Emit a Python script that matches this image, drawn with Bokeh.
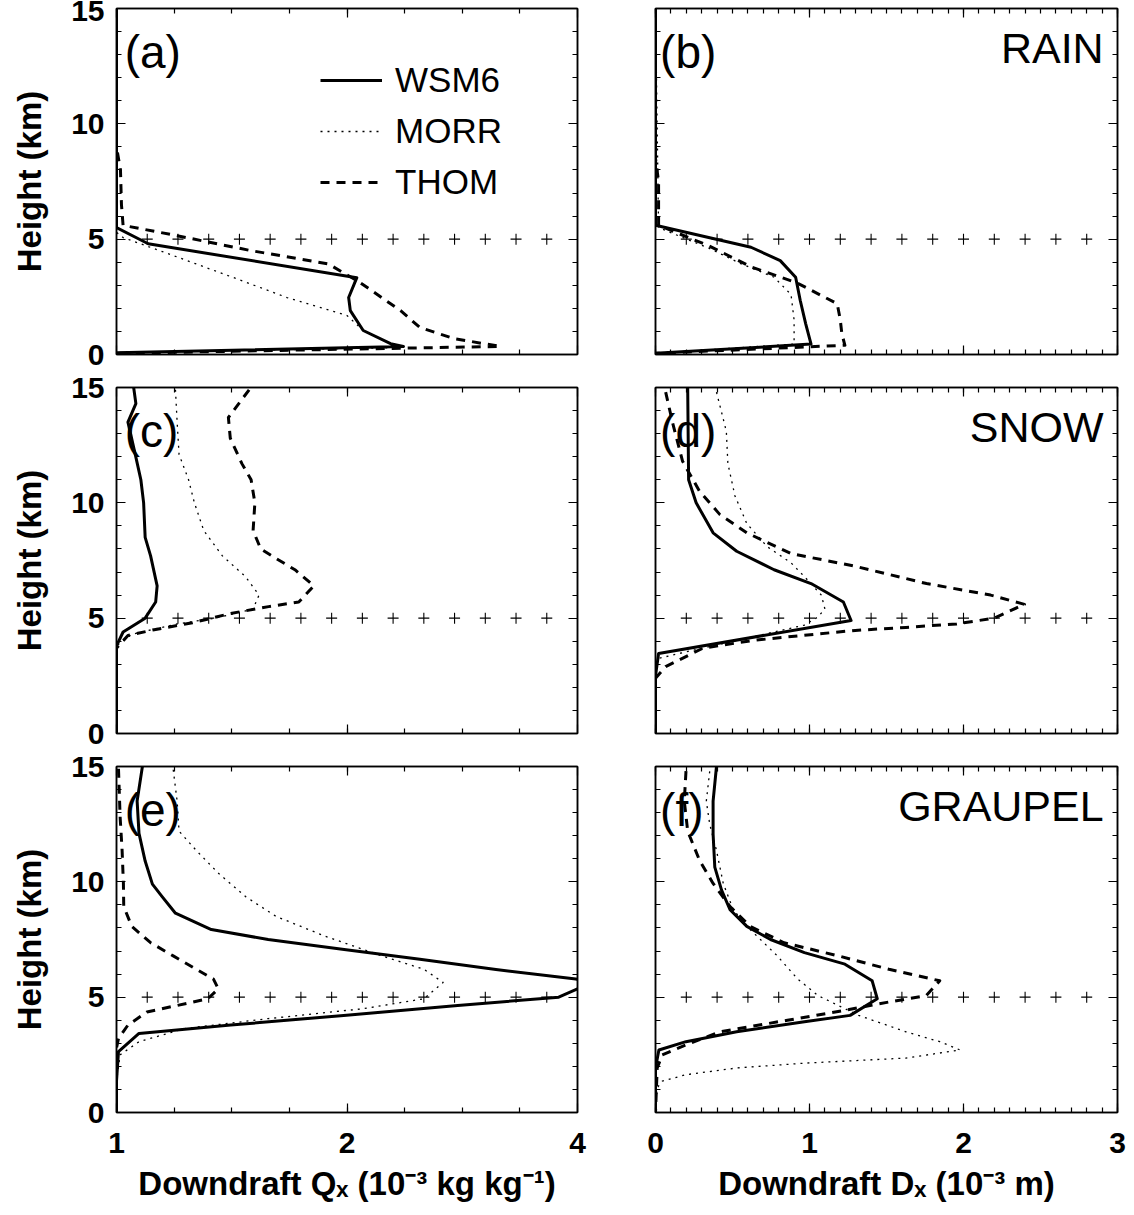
from bokeh.plotting import figure
from bokeh.layouts import gridplot
from bokeh.models import (Range1d, FixedTicker, LinearAxis, LogAxis, Label, Legend,
                          LegendItem, PrintfTickFormatter)
from bokeh.embed import file_html
from bokeh.resources import INLINE

# ---------------------------------------------------------------------------
# Downdraft profiles (height in km) for three microphysics schemes
# Left column: mixing ratio Qx (10^-3 kg/kg, log axis), right: diameter Dx (10^-3 m)
# ---------------------------------------------------------------------------
SCHEMES = ["WSM6", "MORR", "THOM"]

# RAIN, mixing ratio
rain_q_wsm6_h = [15.0, 5.5, 4.8, 3.33, 2.47, 1.9, 1.04, 0.47, 0.35, 0.08]
rain_q_wsm6 = [1.0, 1.0, 1.10, 2.06, 2.01, 2.02, 2.1, 2.28, 2.37, 1.0]
rain_q_morr_h = [15.0, 5.3, 5.07, 4.38, 3.34, 2.47, 1.69, 1.04, 0.47, 0.3, 0.08]
rain_q_morr = [1.0, 1.0, 1.02, 1.166, 1.42, 1.67, 2.0, 2.1, 2.28, 2.35, 1.0]
rain_q_thom_h = [15.0, 9.0, 8.0, 6.5, 5.6, 5.15, 4.5, 3.93, 3.12, 1.9, 1.17, 0.69, 0.35, 0.05]
rain_q_thom = [1.0, 1.0, 1.012, 1.015, 1.02, 1.20, 1.50, 1.89, 2.08, 2.35, 2.49, 2.76, 3.17, 1.0]

# RAIN, diameter
rain_d_wsm6_h = [15.0, 5.6, 4.65, 4.07, 3.35, 2.34, 1.34, 0.45, 0.05]
rain_d_wsm6 = [0.0, 0.0, 0.62, 0.81, 0.91, 0.94, 0.975, 1.01, 0.0]
rain_d_morr_h = [15.0, 5.5, 4.6, 3.95, 3.35, 2.6, 1.5, 0.45, 0.05]
rain_d_morr = [0.0, 0.02, 0.35, 0.55, 0.77, 0.88, 0.9, 0.9, 0.0]
rain_d_thom_h = [15.0, 8.5, 7.5, 5.6, 4.7, 3.8, 3.1, 2.2, 1.5, 0.9, 0.4, 0.05]
rain_d_thom = [0.0, 0.0, 0.02, 0.02, 0.35, 0.62, 0.92, 1.18, 1.2, 1.21, 1.23, 0.0]

# SNOW, mixing ratio
snow_q_wsm6_h = [15.0, 14.3, 13.5, 12.1, 11.0, 10.0, 8.5, 7.7, 6.4, 5.7, 5.0, 4.4, 3.8, 0.0]
snow_q_wsm6 = [1.053, 1.06, 1.035, 1.058, 1.076, 1.085, 1.09, 1.108, 1.13, 1.125, 1.09, 1.02,
               1.0, 1.0]
snow_q_morr_h = [14.9, 13.5, 12.1, 11.0, 10.0, 8.8, 7.7, 6.8, 6.0, 5.4, 5.0, 4.75, 4.3, 3.8, 0.0]
snow_q_morr = [1.194, 1.2, 1.207, 1.242, 1.264, 1.30, 1.375, 1.474, 1.535, 1.508, 1.346, 1.2,
               1.047, 1.0, 1.0]
snow_q_thom_h = [14.9, 13.7, 12.8, 11.7, 11.0, 10.0, 8.8, 8.0, 7.7, 7.1, 6.4, 5.7, 5.5, 5.2,
                 4.8, 4.5, 4.25, 3.7, 0.0]
snow_q_thom = [1.49, 1.40, 1.408, 1.458, 1.499, 1.516, 1.508, 1.543, 1.595, 1.71, 1.81, 1.73,
               1.58, 1.408, 1.257, 1.12, 1.035, 1.0, 1.0]

# SNOW, diameter
snow_d_wsm6_h = [15.0, 11.0, 10.0, 8.7, 7.9, 7.1, 6.5, 5.7, 4.9, 3.47, 2.5, 0.0]
snow_d_wsm6 = [0.209, 0.215, 0.264, 0.374, 0.527, 0.77, 1.01, 1.22, 1.27, 0.02, 0.0, 0.0]
snow_d_morr_h = [14.8, 13.1, 11.7, 10.3, 9.1, 8.1, 7.4, 6.8, 6.0, 5.4, 5.05, 4.7, 4.1, 3.54,
                 3.26, 2.8, 0.0]
snow_d_morr = [0.396, 0.46, 0.47, 0.516, 0.593, 0.725, 0.88, 0.967, 1.077, 1.1, 1.055, 0.967,
               0.571, 0.198, 0.022, 0.0, 0.0]
snow_d_thom_h = [14.8, 13.5, 11.8, 10.5, 9.5, 8.7, 7.8, 7.25, 6.5, 6.0, 5.6, 5.0, 4.75, 4.6,
                 4.47, 4.26, 4.04, 3.7, 2.9, 2.4, 0.0]
snow_d_thom = [0.066, 0.11, 0.176, 0.286, 0.417, 0.593, 0.88, 1.297, 1.76, 2.176, 2.396, 2.198,
               1.956, 1.626, 1.297, 0.967, 0.637, 0.308, 0.066, 0.0, 0.0]

# GRAUPEL, mixing ratio
graupel_q_wsm6_h = [15.0, 13.5, 12.1, 10.9, 9.9, 9.36, 8.64, 7.93, 7.5, 7.07, 6.64, 6.2, 5.79,
                    5.57, 5.36, 5.0, 4.64, 4.21, 3.79, 3.43, 2.64, 1.36, 0.0]
graupel_q_wsm6 = [1.081, 1.064, 1.07, 1.09, 1.114, 1.147, 1.194, 1.33, 1.578, 1.983, 2.49, 3.13,
                  3.98, 4.25, 4.0, 3.78, 2.79, 1.98, 1.41, 1.07, 1.006, 1.0, 1.0]
graupel_q_morr_h = [14.86, 13.5, 12.2, 11.36, 10.36, 9.36, 8.5, 7.64, 6.79, 6.21, 5.64, 4.93,
                    4.5, 4.07, 3.64, 3.07, 2.5, 1.36, 0.0]
graupel_q_morr = [1.186, 1.2, 1.207, 1.271, 1.36, 1.474, 1.616, 1.874, 2.22, 2.52, 2.67, 2.52,
                  2.10, 1.578, 1.228, 1.07, 1.011, 1.0, 1.0]
graupel_q_thom_h = [14.9, 12.8, 11.36, 9.93, 8.93, 8.07, 7.36, 6.79, 6.21, 5.79, 5.36, 4.93,
                    4.64, 4.36, 3.79, 3.21, 2.8, 0.0]
graupel_q_thom = [1.006, 1.011, 1.017, 1.021, 1.022, 1.047, 1.108, 1.186, 1.271, 1.338, 1.358,
                  1.316, 1.2, 1.096, 1.035, 1.006, 1.0, 1.0]

# GRAUPEL, diameter
graupel_d_wsm6_h = [15.0, 13.5, 12.07, 10.64, 9.64, 8.79, 8.07, 7.5, 6.93, 6.43, 5.71, 4.93,
                    4.21, 3.93, 3.5, 3.07, 2.71, 1.93, 0.0]
graupel_d_wsm6 = [0.396, 0.374, 0.374, 0.385, 0.429, 0.484, 0.593, 0.747, 0.967, 1.23, 1.407,
                  1.44, 1.264, 0.967, 0.527, 0.198, 0.022, 0.0, 0.0]
graupel_d_morr_h = [14.79, 13.5, 12.5, 11.36, 9.93, 8.79, 7.93, 6.79, 5.79, 5.07, 4.21, 3.5,
                    3.07, 2.71, 2.36, 2.14, 1.93, 1.64, 1.36, 1.07, 0.0]
graupel_d_morr = [0.352, 0.33, 0.352, 0.396, 0.44, 0.505, 0.615, 0.791, 0.923, 1.055, 1.319,
                  1.626, 1.846, 1.978, 1.626, 0.967, 0.527, 0.198, 0.044, 0.011, 0.0]
graupel_d_thom_h = [14.8, 13.5, 12.2, 10.93, 9.93, 8.93, 8.07, 7.36, 6.79, 6.21, 5.71, 5.07,
                    4.79, 4.43, 4.0, 3.5, 2.93, 2.5, 1.93, 0.0]
graupel_d_thom = [0.198, 0.187, 0.209, 0.286, 0.374, 0.484, 0.615, 0.835, 1.187, 1.516, 1.846,
                  1.758, 1.516, 1.23, 0.857, 0.418, 0.198, 0.044, 0.011, 0.0]

# Axis settings
Q_RANGE = (1.0, 4.0)
D_RANGE = (0.0, 3.0)
H_RANGE = (0.0, 15.0)
Q_TICKS = [1, 2, 4]
D_TICKS = [0, 1, 2, 3]
H_TICKS = [0, 5, 10, 15]
REF_HEIGHT = 5.0        # height of the row of "+" reference marks
N_REF = 15              # the reference marks divide the x range into this many parts

Q_LABEL = "Downdraft Q\u2093 (10\u207b\u00b3 kg kg\u207b\u00b9)"
D_LABEL = "Downdraft D\u2093 (10\u207b\u00b3 m)"

STYLE = {
    "WSM6": dict(line_width=3.0, line_dash="solid"),
    "MORR": dict(line_width=1.3, line_dash="2 5"),
    "THOM": dict(line_width=3.0, line_dash="9 7"),
}

TICK_FONT = "Liberation Sans"
TEXT_FONT = "Liberation Sans"


def style_axis(ax, ticker, formatter=None, show_labels=False):
    ax.ticker = ticker
    if formatter is not None:
        ax.formatter = formatter
    ax.axis_line_color = "black"
    ax.axis_line_width = 1.5
    ax.major_tick_line_color = "black"
    ax.minor_tick_line_color = "black"
    ax.major_tick_line_width = 1.2
    ax.minor_tick_line_width = 1.2
    ax.major_tick_in = 9
    ax.major_tick_out = 0
    ax.minor_tick_in = 5
    ax.minor_tick_out = 0
    if show_labels:
        ax.major_label_text_font = TICK_FONT
        ax.major_label_text_font_size = "30px"
        ax.major_label_text_font_style = "bold"
        ax.major_label_text_color = "black"
    else:
        ax.major_label_text_font_size = "0px"


def make_panel(row, col, curves, tag, species=None, legend=False):
    left = col == 0
    last_row = row == 2
    kw = dict(
        frame_width=461 if left else 462, frame_height=346,
        y_range=Range1d(*H_RANGE),
        output_backend="svg", toolbar_location=None,
        min_border_left=116 if left else 39,
        min_border_right=39 if left else 17,
        min_border_top=8 if row == 0 else 17,
        min_border_bottom=100 if last_row else 16,
        background_fill_color="white", border_fill_color="white",
    )
    if left:
        p = figure(x_axis_type="log", x_range=Range1d(*Q_RANGE), **kw)
        minor = [2 ** (k / 4) for k in range(1, 8)]
        xticker = FixedTicker(ticks=Q_TICKS, minor_ticks=minor)
        top_axis = LogAxis()
    else:
        p = figure(x_range=Range1d(*D_RANGE), **kw)
        xticker = FixedTicker(ticks=D_TICKS, minor_ticks=[i / 10 for i in range(31)])
        top_axis = LinearAxis()
    yticker = FixedTicker(ticks=H_TICKS, minor_ticks=list(range(16)))

    p.xgrid.visible = False
    p.ygrid.visible = False
    p.outline_line_color = "black"
    p.outline_line_width = 1.5

    style_axis(p.xaxis[0], xticker, PrintfTickFormatter(format="%d"), show_labels=last_row)
    style_axis(p.yaxis[0], yticker, PrintfTickFormatter(format="%d"), show_labels=left)
    p.xaxis[0].major_label_standoff = 20
    p.yaxis[0].major_label_standoff = 12
    if last_row:
        p.xaxis[0].axis_label = Q_LABEL if left else D_LABEL
        p.xaxis[0].axis_label_text_font = TEXT_FONT
        p.xaxis[0].axis_label_text_font_size = "33px"
        p.xaxis[0].axis_label_text_font_style = "bold"
        p.xaxis[0].axis_label_text_color = "black"
        p.xaxis[0].axis_label_standoff = 9
    if left:
        p.yaxis[0].axis_label = "Height (km)"
        p.yaxis[0].axis_label_text_font = TEXT_FONT
        p.yaxis[0].axis_label_text_font_size = "33px"
        p.yaxis[0].axis_label_text_font_style = "bold"
        p.yaxis[0].axis_label_text_color = "black"
        p.yaxis[0].axis_label_standoff = 20

    style_axis(top_axis, xticker)
    p.add_layout(top_axis, "above")
    right_axis = LinearAxis()
    style_axis(right_axis, yticker)
    p.add_layout(right_axis, "right")

    # reference marks at 5 km, evenly spaced across the axis
    lo, hi = (Q_RANGE if left else D_RANGE)
    if left:
        ref_x = [lo * (hi / lo) ** (k / N_REF) for k in range(1, N_REF)]
    else:
        ref_x = [lo + (hi - lo) * k / N_REF for k in range(1, N_REF)]
    p.scatter(x=ref_x, y=[REF_HEIGHT] * len(ref_x), marker="cross", size=11,
              line_color="black", line_width=1.1)

    renderers = {}
    for name in SCHEMES:
        xs, hs = curves[name]
        renderers[name] = p.line(x=xs, y=hs, line_color="black", line_join="round",
                                 **STYLE[name])

    p.add_layout(Label(x=1.025 if left else 0.03, y=13.1, text=tag,
                       text_font=TEXT_FONT, text_font_size="46px",
                       text_baseline="middle", text_color="black"))
    if species:
        p.add_layout(Label(x=2.91, y=13.3, text=species, text_align="right",
                           text_font=TEXT_FONT, text_font_size="43px",
                           text_baseline="middle", text_color="black"))
    if legend:
        items = [LegendItem(label=name, renderers=[renderers[name]]) for name in SCHEMES]
        lg = Legend(items=items, location=(204, 152), orientation="vertical",
                    padding=0, margin=0, spacing=11,
                    glyph_width=62, glyph_height=40, label_height=40,
                    label_standoff=13, label_text_font=TEXT_FONT,
                    label_text_font_size="35px", label_text_baseline="middle",
                    label_text_color="black",
                    background_fill_alpha=0, border_line_alpha=0)
        p.add_layout(lg)
    return p


pa = make_panel(0, 0, {"WSM6": (rain_q_wsm6, rain_q_wsm6_h),
                       "MORR": (rain_q_morr, rain_q_morr_h),
                       "THOM": (rain_q_thom, rain_q_thom_h)}, "(a)", legend=True)
pb = make_panel(0, 1, {"WSM6": (rain_d_wsm6, rain_d_wsm6_h),
                       "MORR": (rain_d_morr, rain_d_morr_h),
                       "THOM": (rain_d_thom, rain_d_thom_h)}, "(b)", species="RAIN")
pc = make_panel(1, 0, {"WSM6": (snow_q_wsm6, snow_q_wsm6_h),
                       "MORR": (snow_q_morr, snow_q_morr_h),
                       "THOM": (snow_q_thom, snow_q_thom_h)}, "(c)")
pd = make_panel(1, 1, {"WSM6": (snow_d_wsm6, snow_d_wsm6_h),
                       "MORR": (snow_d_morr, snow_d_morr_h),
                       "THOM": (snow_d_thom, snow_d_thom_h)}, "(d)", species="SNOW")
pe = make_panel(2, 0, {"WSM6": (graupel_q_wsm6, graupel_q_wsm6_h),
                       "MORR": (graupel_q_morr, graupel_q_morr_h),
                       "THOM": (graupel_q_thom, graupel_q_thom_h)}, "(e)")
pf = make_panel(2, 1, {"WSM6": (graupel_d_wsm6, graupel_d_wsm6_h),
                       "MORR": (graupel_d_morr, graupel_d_morr_h),
                       "THOM": (graupel_d_thom, graupel_d_thom_h)}, "(f)", species="GRAUPEL")

grid = gridplot([[pa, pb], [pc, pd], [pe, pf]], toolbar_location=None)

open("out.html", "w").write(file_html(grid, INLINE, title="Downdraft hydrometeor profiles"))
